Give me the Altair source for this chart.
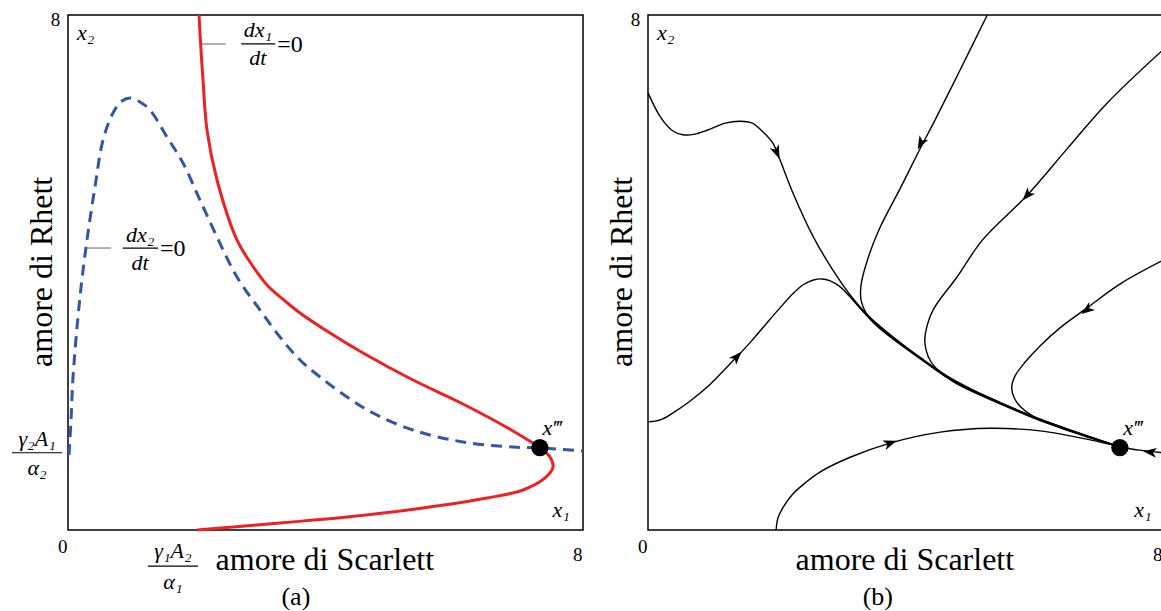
import math
import altair as alt
import pandas as pd

FONT = "Liberation Serif, DejaVu Serif, serif"
W = 515

# ---------------- panel (a): nullclines ----------------
red_x = [2.035, 2.066, 2.097, 2.159, 2.315, 2.625, 2.858, 3.091, 3.371, 3.604, 4.070,
         4.583, 5.359, 6.136, 6.913, 7.332, 7.487, 7.534, 7.410, 7.068, 6.509, 5.515,
         4.334, 3.293, 2.004]
red_y = [8.0, 7.456, 6.990, 6.214, 5.437, 4.505, 4.117, 3.806, 3.557, 3.371, 3.060,
         2.750, 2.330, 1.957, 1.538, 1.274, 1.134, 0.979, 0.808, 0.621, 0.497, 0.342,
         0.202, 0.109, 0.0]

blue_x = [0.016, 0.047, 0.078, 0.186, 0.295, 0.419, 0.544, 0.699, 0.839, 0.963, 1.118,
          1.274, 1.538, 1.786, 2.050, 2.315, 2.625, 2.983, 3.293, 3.604, 3.915, 4.334,
          4.738, 5.359, 6.136, 6.913, 7.332, 8.0]
blue_y = [1.165, 1.709, 2.377, 3.619, 4.505, 5.328, 6.058, 6.478, 6.664, 6.711, 6.649,
          6.524, 6.105, 5.701, 5.126, 4.551, 3.930, 3.417, 2.998, 2.641, 2.377, 2.066,
          1.817, 1.553, 1.367, 1.289, 1.274, 1.227]

eq_x = [7.33]
eq_y = [1.28]

# ---------------- panel (b): trajectories ----------------
t1_x = [0.0, 0.19, 0.37, 0.54, 0.73, 0.92, 1.20, 1.43, 1.62, 1.79, 1.94, 2.05, 2.25,
        2.56, 2.87, 3.18, 3.60, 4.27, 4.80, 5.47, 6.09, 6.71, 7.33]
t1_y = [6.79, 6.42, 6.21, 6.14, 6.15, 6.21, 6.32, 6.35, 6.32, 6.18, 6.01, 5.75, 5.24,
        4.57, 4.04, 3.60, 3.15, 2.64, 2.28, 1.97, 1.71, 1.49, 1.29]

t2_x = [5.27, 4.85, 4.46, 4.23, 3.92, 3.60, 3.42, 3.31, 3.31, 3.39, 3.60, 4.27, 4.80,
        5.47, 6.09, 6.71, 7.33]
t2_y = [8.00, 7.15, 6.37, 5.93, 5.31, 4.69, 4.23, 3.81, 3.57, 3.37, 3.17, 2.65, 2.29,
        1.98, 1.72, 1.50, 1.29]

t3_x = [8.00, 7.13, 6.51, 5.89, 5.20, 4.80, 4.43, 4.32, 4.30, 4.35, 4.46, 4.65, 5.00,
        5.47, 6.09, 6.71, 7.33]
t3_y = [7.46, 6.63, 5.92, 5.20, 4.51, 3.93, 3.42, 3.11, 2.92, 2.70, 2.53, 2.39, 2.20,
        1.98, 1.72, 1.50, 1.29]

t4_x = [8.00, 7.33, 6.82, 6.40, 6.09, 5.86, 5.70, 5.65, 5.69, 5.79, 5.98, 6.40, 6.87,
        7.33]
t4_y = [4.19, 3.82, 3.45, 3.14, 2.86, 2.61, 2.39, 2.21, 2.05, 1.91, 1.77, 1.59, 1.43,
        1.29]

t5_x = [0.0, 0.19, 0.39, 0.65, 0.92, 1.15, 1.38, 1.62, 1.85, 2.05, 2.25, 2.41, 2.56,
        2.70, 2.83, 2.98, 3.14, 3.29, 3.60, 4.27, 4.80, 5.47, 6.09, 6.71, 7.33]
t5_y = [1.68, 1.71, 1.82, 2.00, 2.22, 2.45, 2.69, 2.95, 3.22, 3.45, 3.67, 3.81, 3.88,
        3.90, 3.87, 3.78, 3.62, 3.45, 3.13, 2.63, 2.27, 1.96, 1.70, 1.49, 1.29]

t6_x = [1.99, 2.02, 2.11, 2.25, 2.44, 2.67, 3.14, 3.76, 4.54, 5.31, 6.09, 6.87, 7.33]
t6_y = [0.00, 0.19, 0.37, 0.56, 0.73, 0.90, 1.13, 1.35, 1.52, 1.58, 1.54, 1.40, 1.29]

t7_x = [8.00, 7.64, 7.33]
t7_y = [1.20, 1.24, 1.29]

arrow_traj = ["T1", "T2", "T3", "T4", "T5", "T6", "T7"]
arrow_x = [2.00, 4.24, 5.89, 6.82, 1.38, 3.76, 7.80]
arrow_y = [5.87, 6.01, 5.20, 3.42, 2.69, 1.35, 1.21]

trajectories = {
    "T1": (t1_x, t1_y), "T2": (t2_x, t2_y), "T3": (t3_x, t3_y), "T4": (t4_x, t4_y),
    "T5": (t5_x, t5_y), "T6": (t6_x, t6_y), "T7": (t7_x, t7_y),
}

# ---------------- helpers ----------------
def X():
    return alt.X("x:Q", scale=alt.Scale(domain=[0, 8], nice=False, zero=False), axis=None)


def Y():
    return alt.Y("y:Q", scale=alt.Scale(domain=[0, 8], nice=False, zero=False), axis=None)


def texts(rows, size, style="normal", align="center", angle=0, baseline="middle"):
    df = pd.DataFrame(rows, columns=["t", "x", "y"])
    return alt.Chart(df).mark_text(
        font=FONT, fontSize=size, fontStyle=style, align=align, angle=angle,
        baseline=baseline, color="black"
    ).encode(x=X(), y=Y(), text="t:N")


def rules(rows, color="black", width=1.2):
    df = pd.DataFrame(rows, columns=["x", "x2", "y"])
    return alt.Chart(df).mark_rule(color=color, strokeWidth=width).encode(
        x=X(), x2="x2:Q", y=Y()
    )


def heading(dir_x, dir_y, ax, ay):
    best_i, best_d = 0, 1e9
    for i in range(len(dir_x) - 1):
        mx = (dir_x[i] + dir_x[i + 1]) / 2
        my = (dir_y[i] + dir_y[i + 1]) / 2
        d = (mx - ax) ** 2 + (my - ay) ** 2
        if d < best_d:
            best_d, best_i = d, i
    dx = dir_x[best_i + 1] - dir_x[best_i]
    dy = dir_y[best_i + 1] - dir_y[best_i]
    return math.degrees(math.atan2(dx, dy)) % 360


def common_layers(cap, cap_x, x1_x, xppp_x):
    return [
        texts([["8", -0.12, 7.93]], 19, align="right"),
        texts([["0", -0.08, -0.27], ["8", 7.92, -0.39]], 19),
        texts([["x₂", 0.14, 7.72]], 22, style="italic", align="left"),
        texts([["x₁", x1_x, 0.31], ["x‴", xppp_x, 1.58]], 22, style="italic"),
        texts([["amore di Scarlett", 3.99, -0.46]], 32),
        texts([["amore di Rhett", -0.40, 4.01]], 32, angle=270),
        texts([[cap, cap_x, -1.04]], 26),
    ]


# ---------------- panel (a) ----------------
red_df = pd.DataFrame({"x": red_x, "y": red_y, "o": range(len(red_x))})
blue_df = pd.DataFrame({"x": blue_x, "y": blue_y, "o": range(len(blue_x))})
eq_df = pd.DataFrame({"x": eq_x, "y": eq_y})

red = alt.Chart(red_df).mark_line(
    color="#ed2024", strokeWidth=3, interpolate="catmull-rom"
).encode(x=X(), y=Y(), order="o:Q")
blue = alt.Chart(blue_df).mark_line(
    color="#3355a5", strokeWidth=3, strokeDash=[11, 7], interpolate="catmull-rom"
).encode(x=X(), y=Y(), order="o:Q")
dot = alt.Chart(eq_df).mark_point(filled=True, color="black", size=300, opacity=1).encode(
    x=X(), y=Y())

left_layers = [
    blue, red, dot,
    rules([[2.07, 2.45, 7.55], [0.28, 0.67, 4.38]], color="#666666", width=1),
    rules([[2.69, 3.22, 7.55], [0.85, 1.40, 4.38], [-0.87, -0.09, 1.20], [1.24, 2.02, -0.56]]),
    texts([["dx₁", 2.95, 7.76], ["dt", 2.95, 7.33], ["dx₂", 1.12, 4.59], ["dt", 1.12, 4.15],
           ["γ₂A₁", -0.48, 1.42], ["α₂", -0.48, 0.97], ["γ₁A₂", 1.63, -0.33], ["α₁", 1.63, -0.81]],
          22, style="italic"),
    texts([["=0", 3.25, 7.53], ["=0", 1.43, 4.36]], 24, align="left"),
] + common_layers("(a)", 3.54, 7.66, 7.52)

left = alt.layer(*left_layers).properties(width=W, height=W)

# ---------------- panel (b) ----------------
rows = []
for name, (tx, ty) in trajectories.items():
    for i, (a, b) in enumerate(zip(tx, ty)):
        rows.append({"traj": name, "o": i, "x": a, "y": b})
traj_df = pd.DataFrame(rows)

arr_rows = []
for name, ax, ay in zip(arrow_traj, arrow_x, arrow_y):
    tx, ty = trajectories[name]
    arr_rows.append({"x": ax, "y": ay, "angle": heading(tx, ty, ax, ay)})
arr_df = pd.DataFrame(arr_rows)

lines = alt.Chart(traj_df).mark_line(
    color="black", strokeWidth=1.4, interpolate="catmull-rom"
).encode(x=X(), y=Y(), detail="traj:N", order="o:Q")

arrows = alt.Chart(arr_df).mark_point(
    shape="M0,-1L0.7,0.9L0,0.4L-0.7,0.9Z", filled=True, color="black", size=200, opacity=1
).encode(x=X(), y=Y(), angle=alt.Angle("angle:Q", scale=None))

right_layers = [lines, arrows, dot] + common_layers("(b)", 3.57, 7.69, 7.53)
right = alt.layer(*right_layers).properties(width=W, height=W)

chart = alt.hconcat(left, right, spacing=65, bounds="flush").properties(
    padding={"left": 10, "top": 8, "right": -6, "bottom": 0}
).configure_view(stroke="black", strokeWidth=1.5)

chart.save("out.html", embed_options={"renderer": "svg", "actions": False})
